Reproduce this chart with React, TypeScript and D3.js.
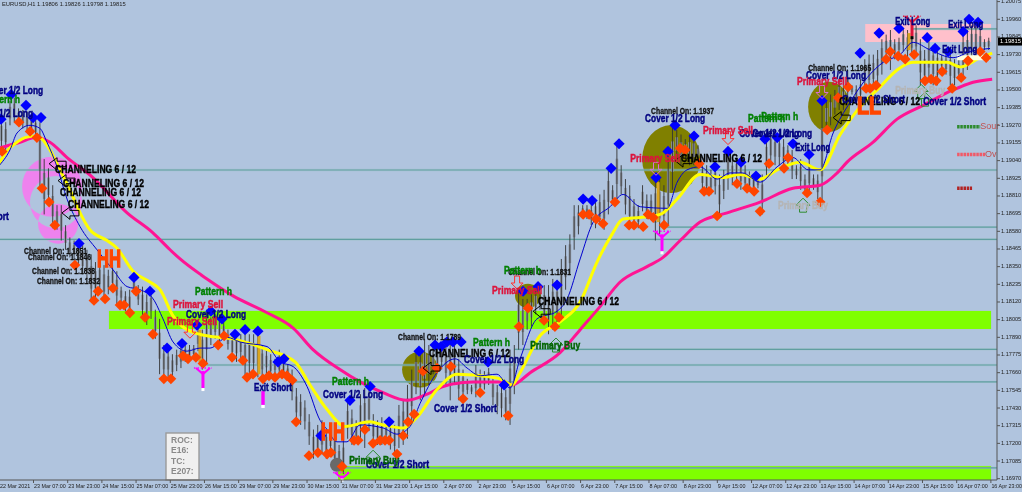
import React from "react";
import * as d3 from "d3";

const W = 1022, H = 492;
const priceTicks = ["1.20075","1.19960","1.19845","1.19730","1.19615","1.19500","1.19385","1.19270","1.19155","1.19040","1.18925","1.18810","1.18695","1.18580","1.18465","1.18350","1.18235","1.18120","1.18005","1.17890","1.17775","1.17660","1.17545","1.17430","1.17315","1.17200","1.17085","1.16970"];
const timeTicks = ["23 Mar 07:00","23 Mar 23:00","24 Mar 15:00","25 Mar 07:00","25 Mar 23:00","26 Mar 15:00","29 Mar 07:00","29 Mar 23:00","30 Mar 15:00","31 Mar 07:00","31 Mar 23:00","1 Apr 15:00","2 Apr 07:00","2 Apr 23:00","5 Apr 15:00","6 Apr 07:00","6 Apr 23:00","7 Apr 15:00","8 Apr 07:00","8 Apr 23:00","9 Apr 15:00","12 Apr 07:00","12 Apr 23:00","13 Apr 15:00","14 Apr 07:00","14 Apr 23:00","15 Apr 15:00","16 Apr 07:00","16 Apr 23:00"];

// two-hour high / low pairs
const barHighs = [1.1932,1.1929,1.1943,1.1945,1.1938,1.1937,1.1936,1.1934,1.1932,1.1929,1.1905,1.1899,1.1888,1.1875,1.1875,1.1862,1.1854,1.1852,1.1850,1.1849,1.1846,1.1843,1.1838,1.1838,1.1836,1.1833,1.1836,1.1832,1.1822,1.1819,1.1820,1.1828,1.1823,1.1822,1.1817,1.1819,1.1807,1.1801,1.1784,1.1781,1.1778,1.1781,1.1784,1.1784,1.1784,1.1784,1.1797,1.1794,1.1807,1.1802,1.1804,1.1804,1.1799,1.1794,1.1791,1.1793,1.1791,1.1791,1.1791,1.1791,1.1793,1.1784,1.1781,1.1778,1.1775,1.1781,1.1775,1.1771,1.1768,1.1756,1.1752,1.1748,1.1739,1.1729,1.1732,1.1735,1.1729,1.1732,1.1729,1.1719,1.1723,1.1747,1.1742,1.1735,1.1752,1.1756,1.1756,1.1739,1.1735,1.1737,1.1732,1.1734,1.1732,1.1745,1.1748,1.1758,1.1768,1.1780,1.1781,1.1788,1.1784,1.1784,1.1783,1.1786,1.1786,1.1786,1.1784,1.1775,1.1768,1.1762,1.1758,1.1771,1.1768,1.1767,1.1769,1.1763,1.1758,1.1758,1.1755,1.1781,1.1784,1.1820,1.1814,1.1814,1.1817,1.1820,1.1817,1.1823,1.1823,1.1827,1.1826,1.1840,1.1849,1.1856,1.1875,1.1875,1.1875,1.1875,1.1875,1.1879,1.1882,1.1885,1.1898,1.1888,1.1914,1.1901,1.1892,1.1888,1.1879,1.1875,1.1888,1.1882,1.1882,1.1893,1.1893,1.1888,1.1910,1.1927,1.1924,1.1921,1.1918,1.1921,1.1920,1.1914,1.1901,1.1901,1.1898,1.1901,1.1895,1.1898,1.1912,1.1905,1.1906,1.1905,1.1901,1.1897,1.1895,1.1893,1.1895,1.1920,1.1924,1.1921,1.1920,1.1918,1.1914,1.1911,1.1901,1.1905,1.1895,1.1908,1.1895,1.1895,1.1942,1.1943,1.1947,1.1950,1.1957,1.1953,1.1963,1.1953,1.1953,1.1957,1.1970,1.1973,1.1973,1.1976,1.1983,1.1986,1.1989,1.1983,1.1984,1.1990,1.1989,1.1989,1.1992,1.1983,1.1976,1.1984,1.1979,1.1977,1.1973,1.1973,1.1975,1.1970,1.1970,1.1989,1.1989,1.1992,1.1992,1.1989,1.1983,1.1984];
const barLows = [1.1911,1.1911,1.1927,1.1929,1.1927,1.1925,1.1923,1.1921,1.1919,1.1885,1.1869,1.1875,1.1860,1.1859,1.1852,1.1846,1.1841,1.1840,1.1836,1.1830,1.1827,1.1812,1.1814,1.1818,1.1812,1.1817,1.1820,1.1810,1.1812,1.1806,1.1802,1.1817,1.1810,1.1801,1.1797,1.1801,1.1788,1.1765,1.1762,1.1763,1.1762,1.1767,1.1769,1.1773,1.1773,1.1776,1.1780,1.1768,1.1771,1.1784,1.1788,1.1784,1.1789,1.1781,1.1775,1.1773,1.1775,1.1763,1.1765,1.1765,1.1763,1.1762,1.1765,1.1763,1.1765,1.1763,1.1763,1.1762,1.1748,1.1734,1.1732,1.1729,1.1719,1.1710,1.1711,1.1713,1.1710,1.1713,1.1703,1.1703,1.1700,1.1723,1.1719,1.1721,1.1723,1.1717,1.1728,1.1719,1.1719,1.1719,1.1723,1.1716,1.1713,1.1717,1.1719,1.1723,1.1735,1.1752,1.1748,1.1752,1.1758,1.1765,1.1767,1.1768,1.1758,1.1748,1.1758,1.1748,1.1748,1.1752,1.1752,1.1750,1.1752,1.1755,1.1758,1.1745,1.1739,1.1737,1.1735,1.1732,1.1752,1.1781,1.1784,1.1794,1.1796,1.1804,1.1807,1.1797,1.1791,1.1794,1.1797,1.1801,1.1820,1.1830,1.1846,1.1856,1.1867,1.1866,1.1862,1.1860,1.1862,1.1859,1.1869,1.1875,1.1879,1.1882,1.1869,1.1860,1.1860,1.1860,1.1871,1.1866,1.1866,1.1852,1.1856,1.1860,1.1862,1.1885,1.1905,1.1901,1.1905,1.1901,1.1901,1.1905,1.1885,1.1882,1.1882,1.1882,1.1868,1.1879,1.1885,1.1888,1.1890,1.1885,1.1885,1.1884,1.1883,1.1886,1.1869,1.1892,1.1901,1.1901,1.1901,1.1898,1.1901,1.1892,1.1892,1.1885,1.1882,1.1882,1.1885,1.1879,1.1875,1.1924,1.1927,1.1934,1.1937,1.1937,1.1943,1.1947,1.1943,1.1943,1.1951,1.1950,1.1951,1.1953,1.1960,1.1970,1.1963,1.1970,1.1973,1.1975,1.1970,1.1973,1.1973,1.1953,1.1953,1.1957,1.1953,1.1953,1.1963,1.1960,1.1953,1.1953,1.1957,1.1957,1.1963,1.1970,1.1970,1.1973,1.1976,1.1976];

const blueDiamonds: [number, number][] = [[0.8,1.1931],[5.5,1.1947],[12.5,1.194],[15.8,1.1932],[19.5,1.1932],[37.3,1.185],[63,1.1828],[70.5,1.1819],[78.5,1.1782],[85.5,1.1785],[92.5,1.1797],[99,1.1806],[104.2,1.1801],[110.3,1.1791],[115,1.1794],[121,1.1793],[130.4,1.1773],[133.2,1.1775],[150.5,1.1725],[164.1,1.1748],[173.5,1.1757],[182.4,1.1734],[196.4,1.178],[203.9,1.1784],[206.7,1.1783],[209.5,1.1786],[212.3,1.1786],[216.1,1.1786],[228.7,1.1773],[236.2,1.1758],[245.1,1.1819],[252.1,1.1822],[261,1.1823],[273.2,1.1879],[277.4,1.1878],[286.3,1.1899],[290,1.1915],[307.3,1.1893],[312.9,1.191],[316.2,1.1927],[325.1,1.192],[334.9,1.19],[341,1.191],[347.1,1.1903],[354.1,1.1894],[358.3,1.1918],[364,1.1919],[371.4,1.1915],[378.9,1.1908],[385,1.1943],[402.8,1.1974],[411.7,1.1987],[421,1.199],[434.2,1.1984],[437.9,1.1977],[444,1.1975],[451,1.1988],[453.8,1.1996],[458,1.1994]];
const orangeDiamonds: [number, number][] = [[1.3,1.191],[9.2,1.1929],[14.4,1.1923],[17.6,1.1919],[20,1.1886],[23.3,1.1877],[26,1.1862],[35.4,1.1836],[44.3,1.1813],[46.2,1.1819],[49.5,1.1814],[53.2,1.1821],[56.5,1.181],[58.4,1.181],[61.1,1.1805],[64,1.1819],[68.2,1.1802],[71.9,1.1791],[77,1.1762],[80.3,1.1762],[86,1.1777],[88.3,1.1775],[92,1.1776],[95.3,1.1772],[102.4,1.1784],[105.2,1.179],[108.9,1.1776],[114,1.1774],[115.9,1.1763],[118.7,1.1765],[123.4,1.1762],[126.2,1.1764],[129,1.1763],[132.3,1.1765],[134.6,1.1764],[137,1.1761],[138.9,1.1734],[144.9,1.1712],[149.1,1.1714],[153.4,1.1713],[155.2,1.1714],[160.4,1.1705],[166,1.1722],[167.9,1.1722],[171.1,1.1729],[174.9,1.172],[178.2,1.1722],[180.5,1.1722],[182.4,1.1722],[186.1,1.1713],[189,1.1725],[191.3,1.1734],[194.1,1.1739],[198.3,1.1767],[204.8,1.1769],[211.4,1.177],[217,1.1749],[225,1.1753],[238.1,1.1738],[243.2,1.1796],[247.4,1.1808],[254.9,1.18],[260,1.1796],[261.9,1.1802],[273.2,1.1869],[276,1.1869],[279.3,1.1866],[282.5,1.1863],[288.1,1.1877],[294.7,1.1862],[297,1.1862],[301.3,1.1861],[303.6,1.1869],[306,1.1867],[311.1,1.1862],[318.6,1.1912],[320.9,1.1911],[327.5,1.1902],[329.8,1.1884],[332.1,1.1884],[335.9,1.1868],[345.2,1.1889],[349.9,1.1886],[353.2,1.1884],[356,1.1871],[360.2,1.1902],[367.2,1.1899],[369.1,1.1906],[378,1.1883],[384.1,1.1877],[387.4,1.1924],[392.5,1.1945],[397.2,1.1952],[405.6,1.1951],[407.5,1.1951],[410.3,1.1953],[415,1.197],[416.9,1.1975],[420.6,1.1972],[423.9,1.197],[428.1,1.1973],[433.2,1.1956],[436,1.1957],[438.4,1.1956],[441.2,1.1962],[445.9,1.1951],[450.1,1.1958],[453.3,1.1969],[459,1.1975],[461.8,1.1971]];

const yellowLine: [number, number][] = [[-0.6,1.1901],[4,1.1911],[8.3,1.1916],[12,1.1919],[17.6,1.192],[20,1.1918],[23.7,1.1911],[28.4,1.1898],[33.1,1.1885],[36.8,1.1873],[42.4,1.1859],[50.4,1.1852],[55.1,1.1847],[62.6,1.1832],[70.5,1.1825],[75.2,1.182],[81.3,1.1803],[87.8,1.1794],[97.2,1.179],[109.4,1.1788],[125.3,1.1781],[138.4,1.1773],[145.4,1.1758],[153.4,1.1742],[161.8,1.1731],[173.5,1.1734],[179.6,1.1732],[189,1.173],[195.5,1.1737],[204.8,1.1755],[214.2,1.1765],[225,1.1764],[234.3,1.1762],[240,1.1758],[243.7,1.1766],[253,1.179],[262.4,1.1799],[271.8,1.1812],[279.7,1.1838],[286.7,1.1856],[291.9,1.1866],[299.9,1.1867],[309.2,1.1869],[317.2,1.1879],[327.9,1.1895],[338.7,1.1893],[346.6,1.1895],[356,1.1892],[364,1.1898],[374.7,1.1903],[384.1,1.1898],[393.5,1.1921],[402.8,1.1939],[412.2,1.1952],[420.1,1.1963],[427.6,1.1968],[443.5,1.1968],[449.6,1.1965],[459,1.1971],[464.6,1.1974]];
const pinkLine: [number, number][] = [[-0.6,1.1912],[9.7,1.1916],[16.7,1.1919],[23.7,1.1916],[31.7,1.1906],[43.8,1.1893],[59.8,1.187],[71.9,1.1857],[79.9,1.1846],[84.6,1.184],[97.2,1.1827],[109.4,1.1816],[125.3,1.1805],[137.5,1.1795],[146.8,1.1781],[159.4,1.1768],[168.8,1.176],[179.6,1.1753],[190.8,1.1748],[200.2,1.1752],[207.7,1.1757],[221.7,1.176],[234.3,1.176],[240,1.1758],[248.4,1.1766],[262.4,1.1779],[271.8,1.1794],[281.1,1.1809],[290.5,1.1825],[303.1,1.1835],[310.6,1.1841],[318.6,1.1852],[327.9,1.1864],[340.6,1.187],[356,1.1877],[371.4,1.1886],[384.1,1.1888],[392.1,1.1896],[396.7,1.1903],[408.9,1.1916],[420.1,1.1931],[432.3,1.194],[446.3,1.195],[455.7,1.1955],[464.6,1.1957]];
const blueLine: [number, number][] = [[-0.6,1.19],[5,1.1911],[8.3,1.1922],[14.4,1.1927],[19,1.1925],[22.3,1.1916],[27,1.19],[31.7,1.1879],[37.8,1.1861],[45.7,1.1846],[53.2,1.1833],[59.8,1.1822],[65.9,1.182],[72,1.1814],[76.6,1.1801],[81.3,1.1786],[87.8,1.178],[93.9,1.1782],[98.6,1.1782],[106.6,1.1789],[112.6,1.1786],[125.3,1.1783],[131.4,1.1773],[137.5,1.177],[144,1.1757],[150.1,1.1735],[153.4,1.1729],[158,1.1721],[162.7,1.1721],[168.8,1.1732],[179.6,1.173],[186.1,1.1726],[192.2,1.1731],[196.9,1.1746],[204.8,1.1766],[213.3,1.1775],[218.9,1.1769],[225,1.1764],[232.9,1.1765],[239,1.1756],[243.7,1.1775],[251.6,1.1801],[261,1.1806],[265.7,1.1814],[271.8,1.184],[277.9,1.1864],[285.8,1.1874],[291.9,1.1882],[299.9,1.1874],[312.5,1.1873],[317.2,1.189],[321.8,1.1898],[327.9,1.19],[335.9,1.1892],[342,1.1896],[347.6,1.1896],[356,1.189],[364,1.19],[371.4,1.1906],[378.5,1.1898],[384.1,1.1898],[390.2,1.1922],[398.1,1.1942],[406.1,1.1958],[413.6,1.1968],[421.5,1.1973],[427.6,1.1981],[435.6,1.1976],[446.3,1.1971],[454.3,1.1975],[463.6,1.1977]];
const creamSegment: [number, number][] = [[448.2,1.1971],[463.6,1.1971]];

const greenZones: [number, number, number, number][] = [[51.3,464.1,1.18062,1.17944],[158.5,464.1,1.17053,1.16962]];
const pinkZones: [number, number, number, number][] = [[405.2,464.1,1.19929,1.19812]];
const levelLines: [number, number][] = [[0,1.18979],[0,1.18527],[312.5,1.18607],[241,1.17812],[97,1.1771],[137.5,1.176],[158.5,1.1704],[427.6,1.19897]];

const channeling = [[26.1,1.1898],[29.8,1.1889],[28.4,1.1883],[32.2,1.1875],[201.1,1.1778],[252.1,1.1812],[319,1.1905],[393,1.1942]];
const channelOn: [string, number, number][] = [["1.1851",11.6,1.1845],["1.1846",13.4,1.1841],["1.1838",15.3,1.1832],["1.1832",17.6,1.1825],["1.1789",186.6,1.1789],["1.1831",238.1,1.1831],["1.1937",305,1.1936],["1.1965",378.5,1.1964]];
const coverLong = [[-7.6,1.1949],[-12.3,1.1934],[87.4,1.1803],[151.5,1.1751],[217.5,1.1774],[302.2,1.1931],[346.2,1.1921],[352.3,1.1921],[377.5,1.1959]];
const coverShort = [[-25,1.1867],[203.4,1.1742],[171.6,1.1706],[432.3,1.1942],[394.4,1.1943]];
const exitShort = [[119.2,1.1756]];
const exitLong = [[419.2,1.1994],[444,1.1992],[441.2,1.1976],[372.4,1.1912]];
const primarySell = [[81.3,1.181],[78.5,1.1799],[230.6,1.1819],[295.2,1.1905],[329.3,1.1923],[373.3,1.1955]];
const patternH = [[91.6,1.1818],[-7.6,1.1943],[155.7,1.176],[221.7,1.1785],[236.2,1.1832],[350.4,1.1931],[356.5,1.1932]];
const primaryBuyGreen = [[248.4,1.1783],[163.7,1.1708]];
const primaryBuyGrey = [[364.4,1.1874],[419.2,1.1949]];
const bigLetters: [string, number, number][] = [["HH",45.7,1.1839],["HH",150.5,1.1726],["LL",401.4,1.1938]];

const leftArrows = [[23.3,1.1902],[27.5,1.1891],[29.3,1.187],[198.3,1.1769],[249.8,1.1806],[316.2,1.1904],[390.2,1.1932]];
const downArrows: [number, number, string][] = [[242.3,1.1825,"#ff3030"],[89.2,1.1793,"#ff3030"],[307.3,1.1899,"#da70d6"],[341,1.1919,"#ff3030"],[385,1.1949,"#da70d6"]];
const upArrows = [[260.5,1.1784],[174.9,1.1711],[376.1,1.1875],[431.4,1.1949],[433.2,1.1944]];
const forkMarks: [number, number, string, number][] = [[95.3,1.1769,"#ff00ff",20],[310.1,1.1858,"#ff00ff",20],[160.4,1.1701,"#ff00ff",6],[427.1,1.1998,"#dc143c",20]];
const stems = [[123.4,1.1754,1.1745]];
const goldBars = [[93.9,1.1794,1.1773],[121.5,1.179,1.1765],[308.3,1.189,1.1864],[425.7,1.1987,1.1976]];
const oliveBlobs = [[196.9,1.1768,18,18],[247.4,1.1816,13,12],[314.4,1.1905,29,34],[388.3,1.1939,21,25]];
const violetRings = [[24.7,1.1887,30],[26.5,1.1877,26],[27.5,1.1863,20]];
const greyBlob = [158,1.1706];
const sideMarks: [number, number, number, string, string][] = [[448.2,459,1.1926,"#2e8b2e","Sour"],[448.2,461.3,1.1908,"#f05a68","Ov"],[448.2,455.2,1.1886,"#b22222",""]];
const infoRows = ["ROC:", "E16:", "TC:", "E207:"];
const headerText = "EURUSD,H1  1.19806 1.19826 1.19798 1.19815";
const lastPrice = "1.19815";

const x = d3.scaleLinear().domain([16, 464]).range([33.5, 33.5 + 448 * 2.137]);
const y = d3.scaleLinear().domain([1.20075, 1.1697]).range([1.6, 478.7]);
const lineGen = d3.line<[number, number]>().x(d => x(d[0])).y(d => y(d[1])).curve(d3.curveMonotoneX);

const bold = "'Liberation Sans Narrow','Liberation Sans',sans-serif";
const plain = "'Liberation Sans',sans-serif";
const Lbl = ({ t, h, p, c, w, s = 10, sw = 0.45 }: any) => (
  <text x={x(h)} y={y(p)} dominantBaseline="middle" fontFamily={bold} fontWeight={700} fontSize={s}
    fill={c} stroke={c} strokeWidth={sw} textLength={w} lengthAdjust="spacingAndGlyphs">{t}</text>
);
const Diamond = ({ d, c, r }: any) => {
  const cx = x(d[0]), cy = y(d[1]);
  return <path d={`M${cx},${cy - r}L${cx + r},${cy}L${cx},${cy + r}L${cx - r},${cy}Z`} fill={c} />;
};

export default function App() {
  const ringPath = violetRings.map(([h, p, r]) => {
    const cx = x(h), cy = y(p);
    return `M${cx - r},${cy}A${r},${r} 0 1 0 ${cx + r},${cy}A${r},${r} 0 1 0 ${cx - r},${cy}Z`;
  }).join("");
  return (
    <svg width={W} height={H} viewBox={`0 0 ${W} ${H}`} style={{ position: "absolute", left: 0, top: 0, background: "#B0C4DE" }}>
      <g style={{ filter: "blur(0.35px)" }}>
        {greenZones.map((z, i) => <rect key={i} x={x(z[0])} y={y(z[2])} width={x(z[1]) - x(z[0])} height={y(z[3]) - y(z[2])} fill="#7FFF00" />)}
        {pinkZones.map((z, i) => <rect key={i} x={x(z[0])} y={y(z[2])} width={x(z[1]) - x(z[0])} height={y(z[3]) - y(z[2])} fill="#FFC0CB" />)}
        {oliveBlobs.map((b, i) => <ellipse key={i} cx={x(b[0])} cy={y(b[1])} rx={b[2]} ry={b[3]} fill="#808000" />)}
        <path d={ringPath} fill="#EE82EE" fillRule="evenodd" />
        {levelLines.map((l, i) => <g key={i}>
          <line x1={x(l[0])} x2={997} y1={y(l[1])} y2={y(l[1])} stroke="#9fc3c7" strokeWidth={2.4} opacity={0.6} />
          <line x1={x(l[0])} x2={997} y1={y(l[1])} y2={y(l[1])} stroke="#5F9EA0" strokeWidth={1.2} />
        </g>)}
        {barHighs.map((hi, i) => {
          const px = x(2 * i + 1), a = y(hi), b = y(barLows[i]);
          return <g key={i}>
            <line x1={px} x2={px} y1={a + (b - a) * 0.25} y2={a + (b - a) * 0.72} stroke="#8f96a3" strokeWidth={2.6} />
            <line x1={px} x2={px} y1={a} y2={b} stroke="#333" strokeWidth={0.9} />
          </g>;
        })}
        {goldBars.map((g, i) => <line key={i} x1={x(g[0])} x2={x(g[0])} y1={y(g[1])} y2={y(g[2])} stroke="#DAA520" strokeWidth={3} />)}
        <path d={lineGen(pinkLine)!} fill="none" stroke="#FF1493" strokeWidth={3} />
        <path d={lineGen(yellowLine)!} fill="none" stroke="#FFFF00" strokeWidth={3} />
        <path d={lineGen(creamSegment)!} fill="none" stroke="#FFFFE0" strokeWidth={5} />
        <path d={lineGen(blueLine)!} fill="none" stroke="#0000CD" strokeWidth={1} />
        <circle cx={x(greyBlob[0])} cy={y(greyBlob[1])} r={7} fill="#696969" />
        {orangeDiamonds.map((d, i) => <Diamond key={i} d={d} c="#FF4500" r={5.4} />)}
        {blueDiamonds.map((d, i) => <Diamond key={i} d={d} c="#0000FF" r={5.6} />)}
        {stems.map((s, i) => <g key={i}>
          <line x1={x(s[0])} x2={x(s[0])} y1={y(s[1])} y2={y(s[2])} stroke="#ff00ff" strokeWidth={3.4} />
          <rect x={x(s[0]) - 1.7} y={y(s[2])} width={3.4} height={3} fill="#fff" />
        </g>)}
        {forkMarks.map((f, i) => {
          const cx = x(f[0]), t = y(f[1]), len = f[3];
          return <g key={i} fill="none" stroke={f[2]}>
            <line x1={cx} x2={cx} y1={t + 3} y2={t + len} strokeWidth={3} />
            <path d={`M${cx - 7},${t}L${cx},${t + 6}L${cx + 7},${t}`} strokeWidth={2} />
            <line x1={cx - 9} x2={cx + 9} y1={t} y2={t} strokeWidth={1.4} strokeDasharray="1.5 2" />
            <rect x={cx - 1.5} y={t + len} width={3} height={3} fill={i === 3 ? "#000" : "#fff"} stroke="none" />
          </g>;
        })}
        {leftArrows.map((a, i) => {
          const ax = x(a[0]), ay = y(a[1]);
          return <path key={i} d={`M${ax},${ay}l8,-6v3.5h9v5.5h-9v3.5Z`} fill="none" stroke="#000" strokeWidth={1} />;
        })}
        {downArrows.map((a, i) => {
          const ax = x(a[0]), ay = y(a[1]);
          return <path key={i} d={`M${ax - 2.5},${ay - 6}h5v7h3.5l-6,6l-6,-6h3.5Z`} fill="none" stroke={a[2]} strokeWidth={1} />;
        })}
        {upArrows.map((a, i) => {
          const ax = x(a[0]), ay = y(a[1]);
          return <path key={i} d={`M${ax},${ay - 7}l7,7h-3.5v7h-7v-7h-3.5Z`} fill="none" stroke="#2e8b2e" strokeWidth={1} />;
        })}
        {channeling.map((a, i) => <Lbl key={i} t="CHANNELING 6 / 12" h={a[0]} p={a[1]} c="#000" w={81} s={11.5} />)}
        {channelOn.map((a, i) => <Lbl key={i} t={`Channel On: ${a[0]}`} h={a[1]} p={a[2]} c="#111" w={63} s={8.5} sw={0.3} />)}
        {coverLong.map((a, i) => <Lbl key={i} t="Cover 1/2 Long" h={a[0]} p={a[1]} c="#000080" w={60} />)}
        {coverShort.map((a, i) => <Lbl key={i} t="Cover 1/2 Short" h={a[0]} p={a[1]} c="#000080" w={63} />)}
        {exitShort.map((a, i) => <Lbl key={i} t="Exit Short" h={a[0]} p={a[1]} c="#000080" w={38} />)}
        {exitLong.map((a, i) => <Lbl key={i} t="Exit Long" h={a[0]} p={a[1]} c="#000080" w={35} />)}
        {primarySell.map((a, i) => <Lbl key={i} t="Primary Sell" h={a[0]} p={a[1]} c="#DC143C" w={50} />)}
        {patternH.map((a, i) => <Lbl key={i} t="Pattern h" h={a[0]} p={a[1]} c="#008000" w={37} />)}
        {primaryBuyGreen.map((a, i) => <Lbl key={i} t="Primary Buy" h={a[0]} p={a[1]} c="#006400" w={50} />)}
        {primaryBuyGrey.map((a, i) => <Lbl key={i} t="Primary Buy" h={a[0]} p={a[1]} c="#b5b5b5" w={50} />)}
        {bigLetters.map((a, i) => <Lbl key={i} t={a[0]} h={a[1]} p={a[2]} c="#FF4500" w={24} s={23} sw={1.4} />)}
        {sideMarks.map((m, i) => <g key={i}>
          <line x1={x(m[0])} x2={x(m[1])} y1={y(m[2])} y2={y(m[2])} stroke={m[3]} strokeWidth={3.5} strokeDasharray="2.5 0.7" />
          {m[4] && <text x={x(m[1])} y={y(m[2])} dominantBaseline="middle" fontFamily={plain} fontSize={9} fill="#c05050">{m[4]}</text>}
        </g>)}
        <g>
          <rect x={166} y={433} width={33} height={47} fill="#f0f0f0" stroke="#9a9a9a" strokeWidth={1.4} />
          {infoRows.map((t, i) => <text key={t} x={171} y={442.5 + i * 10.6} fontFamily={plain} fontWeight={700} fontSize={8.5} fill="#8a8a8a">{t}</text>)}
        </g>
        <text x={2} y={5.5} fontFamily={plain} fontSize={5.8} fill="#222">{headerText}</text>
        <line x1={997} x2={997} y1={0} y2={480} stroke="#555" strokeWidth={1} />
        <line x1={0} x2={997} y1={480} y2={480} stroke="#555" strokeWidth={1} />
        {priceTicks.map(t => <g key={t}>
          <line x1={997} x2={1000} y1={y(+t)} y2={y(+t)} stroke="#555" />
          <text x={1001} y={y(+t)} dominantBaseline="middle" fontFamily={plain} fontSize={5.6} fill="#222">{t}</text>
        </g>)}
        <rect x={998} y={y(+lastPrice) - 4} width={24} height={8} fill="#000" />
        <text x={1000} y={y(+lastPrice)} dominantBaseline="middle" fontFamily={plain} fontSize={5.8} fill="#fff">{lastPrice}</text>
        <text x={0} y={487.5} fontFamily={plain} fontSize={5.4} fill="#222">22 Mar 2021</text>
        {timeTicks.map((t, i) => {
          const tx = x(16 + i * 16);
          return <g key={t}>
            <line x1={tx} x2={tx} y1={480} y2={483} stroke="#555" />
            <text x={tx + 0.5} y={487.5} fontFamily={plain} fontSize={5.4} fill="#222">{t}</text>
          </g>;
        })}
      </g>
    </svg>
  );
}
